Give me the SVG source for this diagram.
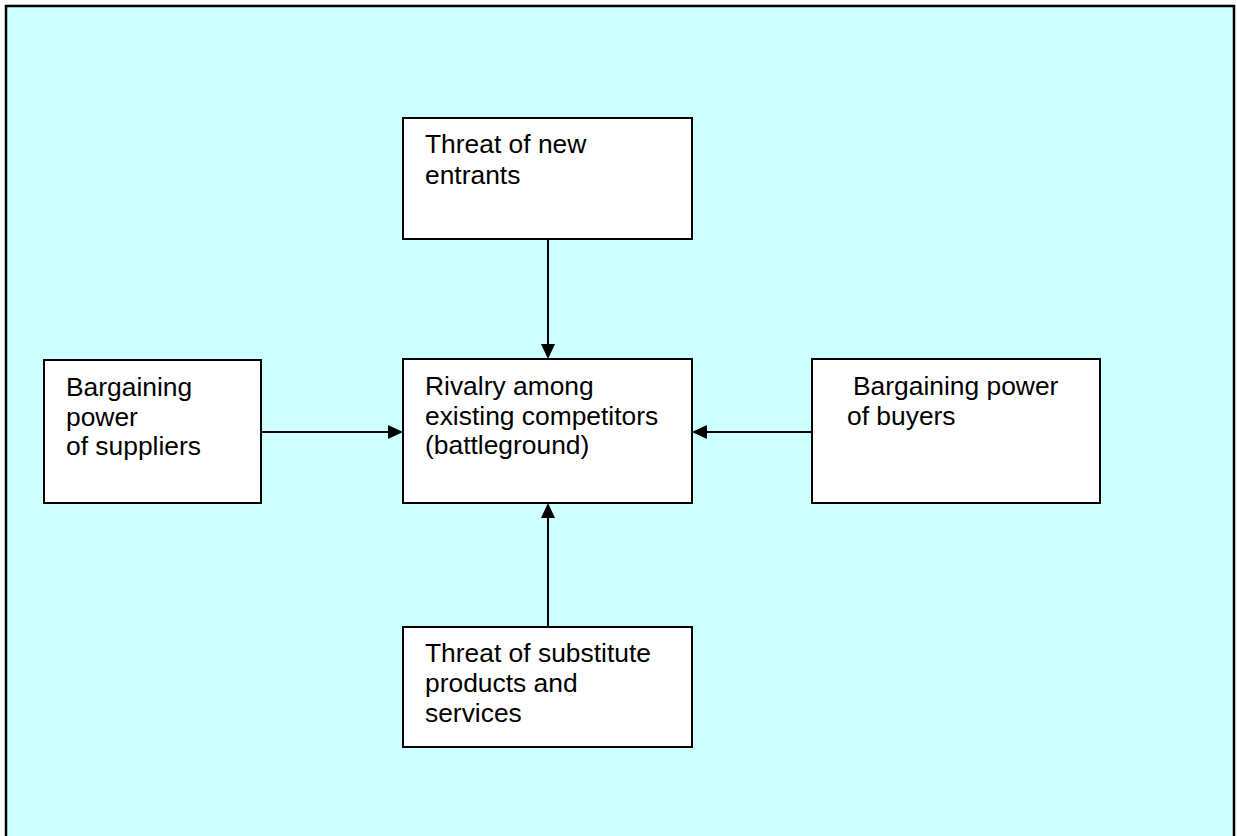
<svg xmlns="http://www.w3.org/2000/svg" width="1237" height="836" viewBox="0 0 1237 836">
<defs>
<style>
.box{fill:#ffffff;stroke:#000000;stroke-width:2}
.t{font-family:"Liberation Sans",Arial,sans-serif;font-size:26.4px;fill:#000000}
.c{stroke:#000000;stroke-width:2;fill:none;marker-end:url(#ah)}
</style>
<marker id="ah" markerWidth="15" markerHeight="14" refX="7" refY="7" orient="auto" markerUnits="userSpaceOnUse" viewBox="0 0 15 14">
<path d="M0,0 L15,7 L0,14 Z" fill="#000000"/>
</marker>
</defs>
<rect x="6" y="6" width="1228" height="840" fill="#ccffff" stroke="#000000" stroke-width="2.5"/>
<g id="connectors">
<line class="c" x1="548" y1="239" x2="548" y2="351"/>
<line class="c" x1="261" y1="432" x2="395" y2="432"/>
<line class="c" x1="812" y1="432" x2="700" y2="432"/>
<line class="c" x1="548" y1="627" x2="548" y2="511"/>
</g>
<g id="new-entrants">
<rect class="box" x="403" y="118" width="289" height="121"/>
<text class="t" x="425" y="153">Threat of new</text>
<text class="t" x="425" y="184">entrants</text>
</g>
<g id="rivalry">
<rect class="box" x="403" y="359" width="289" height="144"/>
<text class="t" x="425" y="395">Rivalry among</text>
<text class="t" x="425" y="424.5">existing competitors</text>
<text class="t" x="425" y="454">(battleground)</text>
</g>
<g id="suppliers">
<rect class="box" x="44" y="360" width="217" height="143"/>
<text class="t" x="66" y="396">Bargaining</text>
<text class="t" x="66" y="425.5">power</text>
<text class="t" x="66" y="455">of suppliers</text>
</g>
<g id="buyers">
<rect class="box" x="812" y="359" width="288" height="144"/>
<text class="t" x="853" y="395">Bargaining power</text>
<text class="t" x="847" y="424.5">of buyers</text>
</g>
<g id="substitutes">
<rect class="box" x="403" y="627" width="289" height="120"/>
<text class="t" x="425" y="662">Threat of substitute</text>
<text class="t" x="425" y="692">products and</text>
<text class="t" x="425" y="722">services</text>
</g>
</svg>
